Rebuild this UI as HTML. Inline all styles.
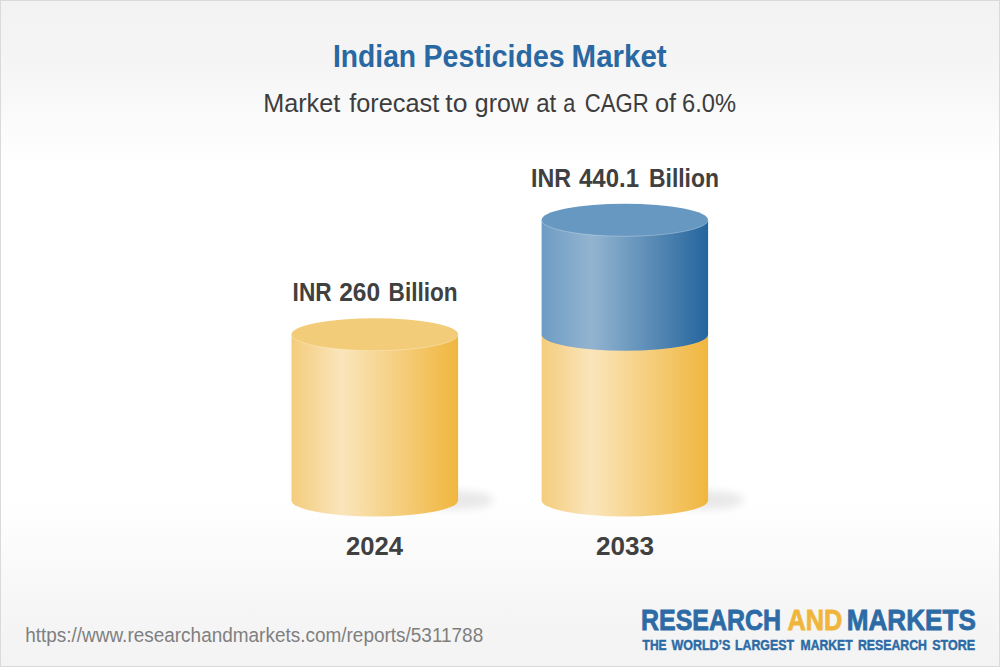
<!DOCTYPE html>
<html>
<head>
<meta charset="utf-8">
<style>
html,body{margin:0;padding:0;width:1000px;height:667px;overflow:hidden;background:#f4f4f4;}
svg{display:block;}
text{font-family:"Liberation Sans", sans-serif;}
</style>
</head>
<body>
<svg width="1000" height="667" viewBox="0 0 1000 667">
<defs>
  <linearGradient id="bg" x1="0" y1="0" x2="0" y2="667" gradientUnits="userSpaceOnUse">
    <stop offset="0" stop-color="#f2f2f2"/>
    <stop offset="0.1" stop-color="#f5f5f5"/>
    <stop offset="0.245" stop-color="#ffffff"/>
    <stop offset="0.75" stop-color="#ffffff"/>
    <stop offset="0.93" stop-color="#f5f5f5"/>
    <stop offset="1" stop-color="#f3f3f3"/>
  </linearGradient>
  <linearGradient id="yel" x1="0" y1="0" x2="1" y2="0">
    <stop offset="0" stop-color="#f4cc7c"/>
    <stop offset="0.3" stop-color="#fae5bb"/>
    <stop offset="1" stop-color="#f0b63e"/>
  </linearGradient>
  <linearGradient id="blu" x1="0" y1="0" x2="1" y2="0">
    <stop offset="0" stop-color="#6e9cc4"/>
    <stop offset="0.3" stop-color="#93b4d0"/>
    <stop offset="1" stop-color="#24659e"/>
  </linearGradient>
  <filter id="blur" x="-50%" y="-50%" width="200%" height="200%"><feGaussianBlur stdDeviation="4.5"/></filter>
</defs>
<g id="bgg">
<rect x="0" y="0" width="1000" height="667" fill="#dadada"/>
<rect x="1" y="1" width="998" height="665" fill="url(#bg)"/>

<ellipse cx="456" cy="500" rx="38" ry="9.5" fill="#000" opacity="0.085" filter="url(#blur)"/>
<path d="M291.5 334.5 L291.5 500.5 A83.3 16 0 0 0 458.1 500.5 L458.1 334.5 Z" fill="url(#yel)"/>
<ellipse cx="374.8" cy="334.5" rx="83.3" ry="16.2" fill="#f3cc79"/>
<path d="M291.5 334.5 A83.3 16.2 0 0 0 458.1 334.5" fill="none" stroke="#fff" stroke-opacity="0.28" stroke-width="1"/>

<ellipse cx="706" cy="500" rx="38" ry="9.5" fill="#000" opacity="0.085" filter="url(#blur)"/>
<path d="M541.6 334.5 L541.6 500.5 A83.25 16 0 0 0 708.1 500.5 L708.1 334.5 Z" fill="url(#yel)"/>
<path d="M541.6 220 L541.6 334.5 A83.25 16.2 0 0 0 708.1 334.5 L708.1 220 Z" fill="url(#blu)"/>
<ellipse cx="624.85" cy="220" rx="83.25" ry="16.3" fill="#6698c1"/>
<path d="M541.6 220 A83.25 16.3 0 0 0 708.1 220" fill="none" stroke="#fff" stroke-opacity="0.28" stroke-width="1"/>
</g>
<g id="txt">
<text id="t1" x="333.00" y="67" font-size="32" font-weight="bold" fill="#2968a2" textLength="83.04" lengthAdjust="spacingAndGlyphs">Indian</text>
<text id="t2" x="423.59" y="67" font-size="32" font-weight="bold" fill="#2968a2" textLength="141.02" lengthAdjust="spacingAndGlyphs">Pesticides</text>
<text id="t3" x="571.59" y="67" font-size="32" font-weight="bold" fill="#2968a2" textLength="95.01" lengthAdjust="spacingAndGlyphs">Market</text>
<text id="s1" x="263.20" y="111.8" font-size="25" fill="#3d3d3d" textLength="76.99" lengthAdjust="spacingAndGlyphs">Market</text>
<text id="s2" x="349.20" y="111.8" font-size="25" fill="#3d3d3d" textLength="90.03" lengthAdjust="spacingAndGlyphs">forecast</text>
<text id="s3" x="445.36" y="111.8" font-size="25" fill="#3d3d3d" textLength="22.11" lengthAdjust="spacingAndGlyphs">to</text>
<text id="s4" x="474.79" y="111.8" font-size="25" fill="#3d3d3d" textLength="53.99" lengthAdjust="spacingAndGlyphs">grow</text>
<text id="s5" x="536.19" y="111.8" font-size="25" fill="#3d3d3d" textLength="20.06" lengthAdjust="spacingAndGlyphs">at</text>
<text id="s6" x="563.20" y="111.8" font-size="25" fill="#3d3d3d" textLength="12.04" lengthAdjust="spacingAndGlyphs">a</text>
<text id="s7" x="584.80" y="111.8" font-size="25" fill="#3d3d3d" textLength="64.00" lengthAdjust="spacingAndGlyphs">CAGR</text>
<text id="s8" x="655.01" y="111.8" font-size="25" fill="#3d3d3d" textLength="21.03" lengthAdjust="spacingAndGlyphs">of</text>
<text id="s9" x="681.99" y="111.8" font-size="25" fill="#3d3d3d" textLength="54.00" lengthAdjust="spacingAndGlyphs">6.0%</text>
<text id="a1" x="292.60" y="301" font-size="26" font-weight="bold" fill="#404040" textLength="38.98" lengthAdjust="spacingAndGlyphs">INR</text>
<text id="a2" x="339.20" y="301" font-size="26" font-weight="bold" fill="#404040" textLength="40.98" lengthAdjust="spacingAndGlyphs">260</text>
<text id="a3" x="388.59" y="301" font-size="26" font-weight="bold" fill="#404040" textLength="69.00" lengthAdjust="spacingAndGlyphs">Billion</text>
<text id="b1" x="531.00" y="187" font-size="26" font-weight="bold" fill="#404040" textLength="40.01" lengthAdjust="spacingAndGlyphs">INR</text>
<text id="b2" x="579.00" y="187" font-size="26" font-weight="bold" fill="#404040" textLength="60.00" lengthAdjust="spacingAndGlyphs">440.1</text>
<text id="b3" x="648.96" y="187" font-size="26" font-weight="bold" fill="#404040" textLength="70.05" lengthAdjust="spacingAndGlyphs">Billion</text>
<text id="y1" x="345.98" y="555" font-size="26" font-weight="bold" fill="#404040" textLength="57.02" lengthAdjust="spacingAndGlyphs">2024</text>
<text id="y2" x="595.96" y="555" font-size="26" font-weight="bold" fill="#404040" textLength="58.07" lengthAdjust="spacingAndGlyphs">2033</text>
<text id="u1" x="25.20" y="642" font-size="19.3" fill="#7f7f7f" textLength="458.00" lengthAdjust="spacingAndGlyphs">https://www.researchandmarkets.com/reports/5311788</text>
<text id="l1" x="641.00" y="630" font-size="29.5" font-weight="bold" fill="#2c6ba5" stroke="#2c6ba5" stroke-width="0.8" textLength="140.02" lengthAdjust="spacingAndGlyphs">RESEARCH</text>
<text id="l2" x="787.39" y="630" font-size="29.5" font-weight="bold" fill="#f0b63c" stroke="#f0b63c" stroke-width="0.8" textLength="55.02" lengthAdjust="spacingAndGlyphs">AND</text>
<text id="l3" x="846.78" y="630" font-size="29.5" font-weight="bold" fill="#2c6ba5" stroke="#2c6ba5" stroke-width="0.8" textLength="129.03" lengthAdjust="spacingAndGlyphs">MARKETS</text>
<text id="g1" x="642.57" y="650" font-size="14" font-weight="bold" fill="#2c6ba5" stroke="#2c6ba5" stroke-width="0.45" textLength="24.04" lengthAdjust="spacingAndGlyphs">THE</text>
<text id="g2" x="671.40" y="650" font-size="14" font-weight="bold" fill="#2c6ba5" stroke="#2c6ba5" stroke-width="0.45" textLength="59.04" lengthAdjust="spacingAndGlyphs">WORLD’S</text>
<text id="g3" x="734.98" y="650" font-size="14" font-weight="bold" fill="#2c6ba5" stroke="#2c6ba5" stroke-width="0.45" textLength="59.02" lengthAdjust="spacingAndGlyphs">LARGEST</text>
<text id="g4" x="800.61" y="650" font-size="14" font-weight="bold" fill="#2c6ba5" stroke="#2c6ba5" stroke-width="0.45" textLength="52.01" lengthAdjust="spacingAndGlyphs">MARKET</text>
<text id="g5" x="857.99" y="650" font-size="14" font-weight="bold" fill="#2c6ba5" stroke="#2c6ba5" stroke-width="0.45" textLength="69.00" lengthAdjust="spacingAndGlyphs">RESEARCH</text>
<text id="g6" x="932.19" y="650" font-size="14" font-weight="bold" fill="#2c6ba5" stroke="#2c6ba5" stroke-width="0.45" textLength="43.01" lengthAdjust="spacingAndGlyphs">STORE</text>
</g>
</svg>
</body>
</html>
